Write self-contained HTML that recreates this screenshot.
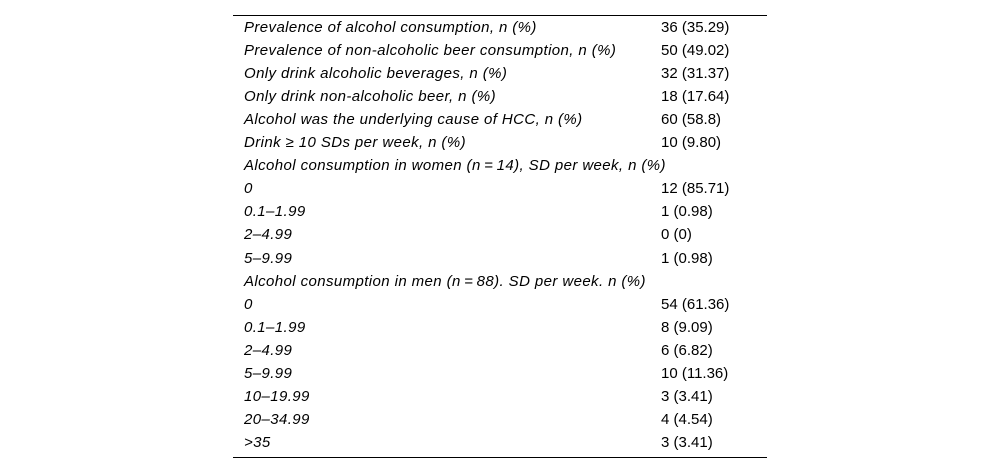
<!DOCTYPE html>
<html><head><meta charset="utf-8"><style>
html,body{margin:0;padding:0;background:#fff;width:1000px;height:474px;overflow:hidden}
.t{position:absolute;left:233px;top:15px;width:534px;height:443px;border-top:1px solid #000;border-bottom:1px solid #000;box-sizing:border-box}
.r{position:absolute;left:0;width:534px;height:23px;font-family:"Liberation Sans",sans-serif;font-size:15px;color:#000;line-height:23px}
.l{position:absolute;left:11px;font-style:italic;white-space:nowrap;letter-spacing:0.4px}
.v{position:absolute;left:428px;white-space:nowrap}
</style></head><body>
<div class="t" id="t"></div>
<script>
const labels=["Prevalence of alcohol consumption, n (%)","Prevalence of non-alcoholic beer consumption, n (%)","Only drink alcoholic beverages, n (%)","Only drink non-alcoholic beer, n (%)","Alcohol was the underlying cause of HCC, n (%)","Drink \u2265 10 SDs per week, n (%)","Alcohol consumption in women (n\u2009=\u200914), SD per week, n (%)","0","0.1\u20131.99","2\u20134.99","5\u20139.99","Alcohol consumption in men (n\u2009=\u200988). SD per week. n (%)","0","0.1\u20131.99","2\u20134.99","5\u20139.99","10\u201319.99","20\u201334.99",">35"];
const values=["36 (35.29)","50 (49.02)","32 (31.37)","18 (17.64)","60 (58.8)","10 (9.80)","","12 (85.71)","1 (0.98)","0 (0)","1 (0.98)","","54 (61.36)","8 (9.09)","6 (6.82)","10 (11.36)","3 (3.41)","4 (4.54)","3 (3.41)"];
const t=document.getElementById('t');
labels.forEach((lab,i)=>{
  const r=document.createElement('div');r.className='r';r.style.top=(i*23.05)+'px';
  
  
  const a=document.createElement('span');a.className='l';a.textContent=lab;
  
  
  const b=document.createElement('span');b.className='v';b.textContent=values[i];
  
  
  r.appendChild(a);r.appendChild(b);t.appendChild(r);
});
</script>
</body></html>
